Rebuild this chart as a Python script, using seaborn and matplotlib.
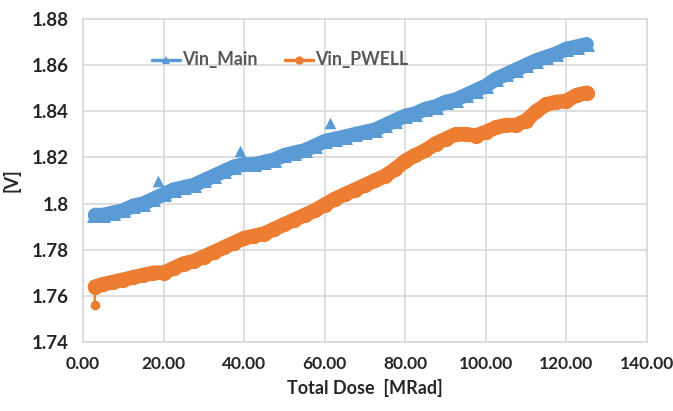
import numpy as np
import matplotlib
matplotlib.use("Agg")
import matplotlib.pyplot as plt
import seaborn as sns
import pandas as pd

# total dose [MRad]
dose = [3, 5, 7.5, 10, 12.5, 15, 17.5, 20, 22.5, 25, 27.5, 30, 32.5, 35, 37.5,
        40, 42.5, 45, 47.5, 50, 52.5, 55, 57.5, 60, 62.5, 65, 67.5, 70, 72.5,
        75, 77.5, 80, 82.5, 85, 87.5, 90, 92.5, 95, 97.5, 100, 102.5, 105, 107.5, 110,
        112.5, 115, 117.5, 120, 122.5, 125]

vin_main = [1.795, 1.795, 1.796, 1.797, 1.799, 1.800, 1.802, 1.804, 1.806, 1.807,
            1.808, 1.810, 1.812, 1.814, 1.816, 1.817, 1.817, 1.818, 1.819, 1.821,
            1.822, 1.823, 1.825, 1.827, 1.828, 1.829, 1.830, 1.831, 1.832, 1.834,
            1.836, 1.838, 1.839, 1.841, 1.842, 1.844, 1.845, 1.847, 1.849, 1.851, 1.854,
            1.856, 1.858, 1.860, 1.862, 1.8635, 1.865, 1.867, 1.868, 1.869]

vin_pwell = [1.764, 1.765, 1.766, 1.767, 1.768, 1.769, 1.770, 1.770, 1.772, 1.774,
             1.775, 1.777, 1.779, 1.781, 1.783, 1.785, 1.786, 1.787, 1.789, 1.791,
             1.793, 1.795, 1.797, 1.7995, 1.802, 1.804, 1.806, 1.808, 1.810, 1.812,
             1.815, 1.8185, 1.821, 1.823, 1.826, 1.828, 1.830, 1.830, 1.8295, 1.831, 1.833,
             1.834, 1.834, 1.836, 1.840, 1.843, 1.844, 1.8445, 1.847, 1.848]

# a few single high readings on Vin_Main
spike_dose = [18.6, 39.0, 61.3]
spike_val = [1.8098, 1.8228, 1.8350]

# first reading of PWELL was low
pwell_start_dose = [2.9, 3.0]
pwell_start_val = [1.756, 1.764]

x_ticks = [0, 20, 40, 60, 80, 100, 120, 140]
y_ticks = [1.74, 1.76, 1.78, 1.80, 1.82, 1.84, 1.86, 1.88]

sns.set_style("white")
plt.rcParams['font.family'] = ['Lato', 'DejaVu Sans']

blue = "#5B9BD5"
orange = "#ED7D31"

df_main = pd.DataFrame({'dose': dose, 'v': vin_main})
df_pwell = pd.DataFrame({'dose': dose, 'v': vin_pwell})
df_start = pd.DataFrame({'dose': pwell_start_dose, 'v': pwell_start_val})
df_spike = pd.DataFrame({'dose': spike_dose, 'v': spike_val})

fig = plt.figure(figsize=(6.73, 4.11), dpi=100)
ax = fig.add_axes([0.1233, 0.1679, 0.8381, 0.7859])

sns.lineplot(data=df_main, x='dose', y='v', ax=ax, color=blue, lw=10.5, marker='^',
             markersize=12, markeredgewidth=0, label='Vin_Main', sort=False)
sns.scatterplot(data=df_spike, x='dose', y='v', ax=ax, color=blue, marker='^',
                s=70, linewidth=0, legend=False)
sns.lineplot(data=df_start, x='dose', y='v', ax=ax, color=orange, lw=1.8, marker='o',
             markersize=7, markeredgewidth=0, sort=False)
sns.lineplot(data=df_pwell, x='dose', y='v', ax=ax, color=orange, lw=10.5, marker='o',
             markersize=11, markeredgewidth=0, label='Vin_PWELL', sort=False)

ax.set_xlim(0, 140)
ax.set_ylim(1.74, 1.88)
ax.set_xticks(x_ticks)
ax.set_yticks(y_ticks)
ax.set_xticklabels([f"{t:.2f}" for t in x_ticks], fontsize=12.5, fontweight='bold')
ax.set_yticklabels([f"{t:g}" for t in y_ticks], fontsize=13.5, fontweight='bold')
ax.tick_params(length=0, pad=10)

ax.grid(True, color="#D9D9D9", lw=1.2)
ax.set_axisbelow(True)
for s in ax.spines.values():
    s.set_color("#D9D9D9")
    s.set_linewidth(1.2)

ax.set_xlabel("Total Dose  [MRad]", fontsize=13, fontweight='bold', labelpad=5)
ax.set_ylabel("[V]", fontsize=13, fontweight='bold', labelpad=8)

leg = ax.legend(loc='center left', bbox_to_anchor=(0.10, 0.875), ncol=2, frameon=False,
                handlelength=2.0, columnspacing=2.0, handletextpad=0.15)
for t in leg.get_texts():
    t.set_color("#595959")
    t.set_fontsize(12.8)
    t.set_fontweight('bold')
for h in leg.legend_handles:
    h.set_linewidth(2.5)
    h.set_markersize(6)

fig.savefig("out.png", dpi=100)
